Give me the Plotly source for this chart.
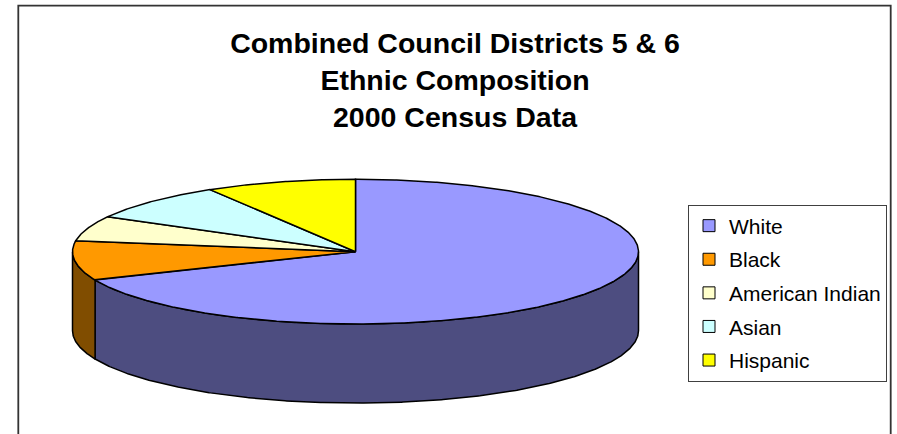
import numpy as np
import plotly.graph_objects as go

# ---- data ----
categories = ["White", "Black", "American Indian", "Asian", "Hispanic"]
shares = [68.6, 8.8, 5.6, 8.4, 8.6]
top_colors = ["#9999FF", "#FF9900", "#FFFFCC", "#CCFFFF", "#FFFF00"]
side_colors = ["#4D4D80", "#804D00", "#80806A", "#6A8080", "#808000"]
title_lines = ["Combined Council Districts 5 & 6", "Ethnic Composition", "2000 Census Data"]

# ---- geometry of the tilted pie (in pixel-like axis units) ----
W, H = 897, 434
CX, CY, RX, RY, DEPTH = 355.5, 251.7, 283.0, 72.4, 79.0
FONT = "Liberation Sans, Arial, sans-serif"


def ell(theta_deg, drop=0.0):
    t = np.radians(theta_deg)
    return CX + RX * np.sin(t), CY - RY * np.cos(t) + drop


total = float(sum(shares))
bounds = np.concatenate([[0.0], np.cumsum(shares) / total * 360.0])

fig = go.Figure()

# side walls (front half only: 90..270 deg clockwise from 12 o'clock)
for i, cat in enumerate(categories):
    t1, t2 = bounds[i], bounds[i + 1]
    s1, s2 = max(t1, 90.0), min(t2, 270.0)
    if s2 <= s1:
        continue
    th = np.linspace(s1, s2, max(int((s2 - s1) * 3), 3))
    xt, yt = ell(th)
    xb, yb = ell(th[::-1], DEPTH)
    xs = np.concatenate([xt, xb, xt[:1]])
    ys = np.concatenate([yt, yb, yt[:1]])
    fig.add_trace(go.Scatter(
        x=xs, y=ys, mode="lines", fill="toself", fillcolor=side_colors[i],
        line=dict(color="black", width=1.5), showlegend=False, hoverinfo="skip"))

# top faces
for i, cat in enumerate(categories):
    t1, t2 = bounds[i], bounds[i + 1]
    th = np.linspace(t1, t2, max(int((t2 - t1) * 3), 3))
    xa, ya = ell(th)
    xs = np.concatenate([[CX], xa, [CX]])
    ys = np.concatenate([[CY], ya, [CY]])
    fig.add_trace(go.Scatter(
        x=xs, y=ys, mode="lines", fill="toself", fillcolor=top_colors[i],
        line=dict(color="black", width=1.5), showlegend=False,
        name=cat, text=f"{cat}: {shares[i]}%", hoverinfo="text", hoveron="fills"))

# legend entries
for i, cat in enumerate(categories):
    fig.add_trace(go.Scatter(
        x=[None], y=[None], mode="markers", name=cat, legendgroup=cat,
        marker=dict(symbol="square", size=12, color=top_colors[i],
                    line=dict(color="black", width=1))))

fig.update_layout(
    width=W, height=H, autosize=False,
    margin=dict(l=0, r=0, t=0, b=0),
    paper_bgcolor="white", plot_bgcolor="white",
    font=dict(family=FONT, color="black"),
    title=dict(
        text="<br>".join(f"<b>{t}</b>" for t in title_lines),
        font=dict(family=FONT, size=28.5, color="black"),
        x=455 / W, xanchor="center", xref="container",
        y=1 - 52.5 / H, yanchor="top", yref="container"),
    xaxis=dict(range=[0, W], visible=False, fixedrange=True),
    yaxis=dict(range=[H, 0], visible=False, fixedrange=True),
    legend=dict(
        x=688 / W, y=1 - 204.5 / H, xanchor="left", yanchor="top",
        bordercolor="#404040", borderwidth=1, bgcolor="white",
        font=dict(family=FONT, size=21, color="black"),
        traceorder="grouped", tracegroupgap=3.3),
    shapes=[dict(type="rect", xref="x", yref="y", x0=18.3, x1=890.7, y0=5.7, y1=460,
                 line=dict(color="#333333", width=1.8), layer="below")],
    showlegend=True,
)

fig.write_html("out.html", config={"displayModeBar": False},
               post_script="document.body.style.margin='0px';document.body.style.overflow='hidden';")
